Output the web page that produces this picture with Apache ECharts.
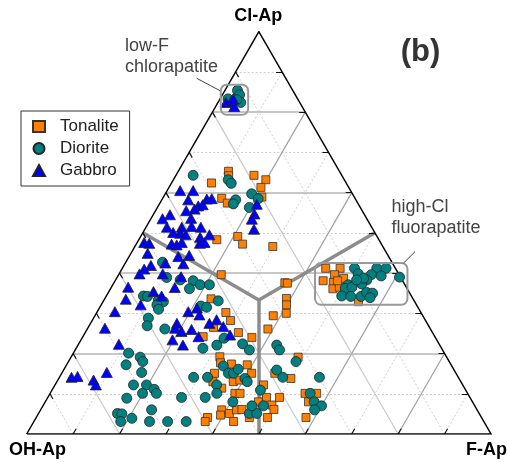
<!DOCTYPE html>
<html><head><meta charset="utf-8">
<script src="https://cdn.jsdelivr.net/npm/echarts@6/dist/echarts.min.js"></script>
<style>html,body{margin:0;padding:0;background:#fff}#c{width:509px;height:462px}</style>
</head><body><div id="c"></div>
<script>
// Ternary components (apex order): OH-Ap (bottom-left), F-Ap (bottom-right), Cl-Ap (top)
const apexLabels = ['OH-Ap', 'F-Ap', 'Cl-Ap'];
const seriesNames = ['Tonalite', 'Diorite', 'Gabbro'];
// Each point: [Cl %, F %]  (OH % = 100 - Cl - F)
const tonalite = [[65.3,10.8],[64.2,11.4],[62.4,8.6],[64.3,16.8],[63.2,19.9],[61.3,19.8],[58.9,21.2],[58.6,12.7],[57.4,14.5],[48.3,16.8],[49.1,20.9],[47.2,22.9],[46.6,29.7],[39.6,22.1],[37.6,36.8],[37.5,37.4],[33.7,39.1],[32.1,39.9],[30.0,40.9],[29.4,38.4],[26.1,38.9],[33.6,22.9],[30.2,27.8],[28.2,29.8],[26.5,27.0],[25.2,33.0],[24.0,36.5],[24.2,25.9],[19.2,32.0],[17.7,32.9],[17.4,35.4],[17.2,38.9],[15.1,40.9],[15.1,32.9],[13.0,33.6],[11.4,36.3],[13.0,38.0],[13.4,39.2],[10.1,39.8],[10.1,40.9],[6.0,39.0],[5.1,41.1],[6.0,42.2],[6.1,43.3],[4.7,39.4],[4.1,36.9],[3.1,36.9],[4.1,45.9],[4.1,49.8],[8.0,45.9],[9.1,47.1],[7.2,49.2],[6.1,50.2],[9.1,49.9],[12.2,44.9],[15.1,45.9],[13.8,50.0],[19.1,48.9],[10.1,54.9],[10.1,57.4],[8.0,56.7],[4.1,58.1],[3.1,43.0],[41.2,43.8],[41.2,46.9],[38.1,44.8],[39.6,46.5],[37.7,47.2],[38.7,48.9],[36.1,47.9],[36.5,49.1],[32.9,55.0],[38.1,47.9]];
const diorite = [[85.4,2.7],[84.3,3.7],[82.4,4.9],[83.3,1.7],[83.1,3.7],[64.3,3.7],[63.2,11.8],[62.3,12.9],[59.7,18.6],[58.5,20.6],[56.3,19.8],[58.2,15.9],[57.2,15.9],[42.7,7.9],[38.9,10.7],[38.3,13.9],[38.1,16.8],[37.1,18.8],[37.1,20.8],[36.1,17.0],[34.3,8.0],[34.2,8.9],[33.3,11.7],[32.9,13.0],[32.1,12.0],[31.0,12.9],[28.8,11.8],[26.9,12.5],[26.1,16.7],[33.1,24.7],[31.8,21.6],[31.5,23.0],[21.3,27.3],[22.1,29.9],[23.8,30.6],[22.4,35.3],[20.9,37.5],[22.1,42.8],[20.9,44.0],[20.1,11.9],[19.1,14.9],[18.0,16.0],[17.2,12.8],[15.3,17.1],[12.2,16.9],[12.2,19.7],[11.1,21.9],[10.1,22.9],[10.1,19.9],[8.9,17.1],[6.0,23.9],[5.1,17.0],[5.0,18.0],[3.1,18.7],[3.9,20.7],[3.1,24.9],[3.1,28.8],[9.1,28.8],[3.1,32.8],[16.9,33.9],[15.1,35.9],[15.1,37.0],[16.1,37.5],[14.1,28.9],[14.1,31.9],[12.2,34.8],[10.1,35.9],[13.8,40.1],[13.0,41.0],[15.9,45.9],[14.1,48.1],[18.0,49.0],[14.1,56.0],[10.9,44.9],[8.0,40.4],[9.1,33.9],[5.1,45.4],[5.1,47.0],[7.0,45.0],[7.0,47.5],[10.1,56.0],[8.0,57.9],[7.0,60.0],[6.0,59.0],[41.2,50.0],[39.8,51.5],[41.2,54.8],[41.2,56.8],[39.6,54.4],[39.3,56.7],[38.3,54.1],[37.3,53.5],[37.1,50.7],[36.2,50.5],[36.5,51.8],[34.3,50.7],[34.2,52.7],[34.2,54.9],[35.2,55.6],[35.0,57.0],[33.9,57.0],[39.0,60.8],[38.7,53.2],[38.3,51.9]];
const gabbro = [[82.4,1.7],[82.7,2.7],[81.4,4.0],[83.3,2.8],[60.5,2.8],[60.5,5.6],[58.2,5.7],[58.4,9.6],[58.5,10.6],[56.7,8.6],[57.0,9.4],[55.5,6.6],[55.9,8.2],[57.1,21.0],[54.7,21.7],[53.4,21.8],[50.9,23.5],[54.5,3.6],[53.5,2.5],[53.6,8.6],[51.4,4.5],[51.4,7.7],[51.6,9.7],[51.4,11.8],[50.1,6.5],[49.9,8.1],[49.5,9.5],[49.5,14.6],[48.9,12.9],[47.6,1.5],[47.4,2.7],[47.2,7.6],[47.0,8.8],[47.6,9.6],[47.4,13.6],[47.6,14.5],[44.9,3.6],[44.1,10.6],[44.4,12.8],[42.3,12.6],[41.9,5.8],[42.5,8.6],[41.0,4.8],[39.8,4.4],[39.8,9.4],[39.1,13.7],[36.4,13.7],[36.5,3.6],[35.4,9.6],[34.3,11.9],[33.5,4.6],[32.1,8.5],[30.4,3.8],[26.3,3.7],[22.3,8.7],[30.4,19.6],[31.3,21.0],[29.6,22.4],[27.5,25.6],[28.4,26.7],[26.7,29.0],[27.5,18.6],[26.3,18.8],[25.5,20.6],[26.0,22.5],[23.4,19.7],[22.1,22.6],[24.2,24.9],[24.6,31.5],[14.1,2.6],[14.3,3.8],[13.4,7.7],[12.2,8.8],[15.3,9.6]];
const gridLevels = [10,20,30,40,50,60,70,80,90];
const majorLevels = [20,40,60,80];

const H = Math.sqrt(3) / 2;
function toXY(cl, f) { return [(f + cl / 2) / 100, cl / 100 * H]; }
function seg(a, b) { return { coords: [toXY(a[0], a[1]), toXY(b[0], b[1])] }; }

const clLines = [], fLines = [], ohLines = [], minorLines = [], ticks = [];
gridLevels.forEach(v => {
  const major = majorLevels.indexOf(v) >= 0;
  const c = seg([v, 0], [v, 100 - v]);          // constant Cl
  const f = seg([0, v], [100 - v, v]);          // constant F
  const o = seg([0, 100 - v], [100 - v, 0]);    // constant OH = v
  if (major) { clLines.push(c); fLines.push(f); ohLines.push(o); }
  else { minorLines.push(c, f, o); }
  ticks.push(seg([v, 100 - v], [v, 100 - v - 1.3]));
  ticks.push(seg([0, v], [1.3, v]));
  ticks.push(seg([100 - v, 0], [100 - v - 1.3, 1.3]));
});
const outline = [{ coords: [toXY(0, 0), toXY(0, 100), toXY(100, 0), toXY(0, 0)] }];
const ctr = [100 / 3, 100 / 3];
const fields = [seg(ctr, [50, 50]), seg(ctr, [50, 0]), seg(ctr, [0, 50])];

function linesSeries(data, style, z, poly) {
  style.opacity = 1;
  return { type: 'lines', coordinateSystem: 'cartesian2d', polyline: !!poly, silent: true, z: z,
    lineStyle: style, data: data, animation: false };
}
function pts(arr) { return arr.map(p => toXY(p[0], p[1])); }

const chart = echarts.init(document.getElementById('c'), null, { renderer: 'canvas' });
const FONT = 'Liberation Sans, Arial, sans-serif';
chart.setOption({
  animation: false,
  backgroundColor: '#fff',
  grid: { left: 26.7, right: 18, top: 31.7, bottom: 28, containLabel: false },
  xAxis: { type: 'value', min: 0, max: 1, show: false },
  yAxis: { type: 'value', min: 0, max: H, show: false },
  legend: {
    orient: 'vertical', left: 21, top: 111, padding: [7, 11, 7, 11], itemWidth: 12, itemHeight: 11, itemGap: 5,
    borderColor: '#333', borderWidth: 1, borderRadius: 0, backgroundColor: '#fff',
    textStyle: { fontSize: 17, color: '#222', fontFamily: FONT, padding: [0, 0, 0, 10] },
    data: seriesNames
  },
  series: [
    linesSeries(minorLines, { color: '#cfcfcf', width: 1, type: [2, 2] }, 1),
    linesSeries(ohLines, { color: '#c8c8c8', width: 1.2 }, 2),
    linesSeries(fLines, { color: '#a0a0a0', width: 1.2 }, 2),
    linesSeries(clLines, { color: '#b4b4b4', width: 1.5 }, 2),
    linesSeries(fields, { color: '#8c8c8c', width: 3.5 }, 3),
    linesSeries(ticks, { color: '#111', width: 1.2 }, 4),
    linesSeries(outline, { color: '#000', width: 1.5 }, 4, true),
    { name: seriesNames[0], type: 'scatter', z: 5, symbol: 'rect', symbolSize: 8, data: pts(tonalite),
      itemStyle: { color: '#ff8000', borderColor: '#333', borderWidth: 0.8, opacity: 1 } },
    { name: seriesNames[1], type: 'scatter', z: 6, symbol: 'circle', symbolSize: 10, data: pts(diorite),
      itemStyle: { color: '#008080', borderColor: '#222', borderWidth: 0.8, opacity: 1 } },
    { name: seriesNames[2], type: 'scatter', z: 7, symbol: 'triangle', symbolSize: [11, 10], data: pts(gabbro),
      itemStyle: { color: '#0000ff', borderColor: '#222', borderWidth: 0.8, opacity: 1 } }
  ]
});

// annotation boxes (data coords of the cartesian ternary space)
const boxes = [
  { x: [0.418, 0.477], y: [0.687, 0.752] },
  { x: [0.621, 0.820], y: [0.278, 0.368] }
];
const g = [];
boxes.forEach(b => {
  const p1 = chart.convertToPixel({ gridIndex: 0 }, [b.x[0], b.y[1]]);
  const p2 = chart.convertToPixel({ gridIndex: 0 }, [b.x[1], b.y[0]]);
  g.push({ type: 'rect', z: 8, shape: { x: p1[0], y: p1[1], width: p2[0] - p1[0], height: p2[1] - p1[1], r: 6 },
    style: { fill: 'none', stroke: '#999', lineWidth: 2 } });
});
g.push({ type: 'line', z: 8, shape: { x1: 196.7, y1: 78.3, x2: 220, y2: 90.7 }, style: { stroke: '#444', lineWidth: 1 } });
g.push({ type: 'line', z: 8, shape: { x1: 415, y1: 251.7, x2: 403.3, y2: 263.3 }, style: { stroke: '#444', lineWidth: 1 } });
g.push({ type: 'text', z: 9, x: 125, y: 36, style: { text: 'low-F\nchlorapatite', font: '18px ' + FONT, fill: '#444', lineHeight: 21 } });
g.push({ type: 'text', z: 9, x: 391.5, y: 196.5, style: { text: 'high-Cl\nfluorapatite', font: '18px ' + FONT, fill: '#444', lineHeight: 21 } });
g.push({ type: 'text', z: 9, x: 258.3, y: 16, style: { text: apexLabels[2], font: 'bold 18px ' + FONT, fill: '#000', align: 'center', verticalAlign: 'middle' } });
g.push({ type: 'text', z: 9, x: 9, y: 450, style: { text: apexLabels[0], font: 'bold 18px ' + FONT, fill: '#000', align: 'left', verticalAlign: 'middle' } });
g.push({ type: 'text', z: 9, x: 507, y: 450, style: { text: apexLabels[1], font: 'bold 18px ' + FONT, fill: '#000', align: 'right', verticalAlign: 'middle' } });
g.push({ type: 'text', z: 9, x: 420.5, y: 52, style: { text: '(b)', font: 'bold 31px ' + FONT, fill: '#333', align: 'center', verticalAlign: 'middle' } });
chart.setOption({ graphic: g });
</script>
</body></html>
